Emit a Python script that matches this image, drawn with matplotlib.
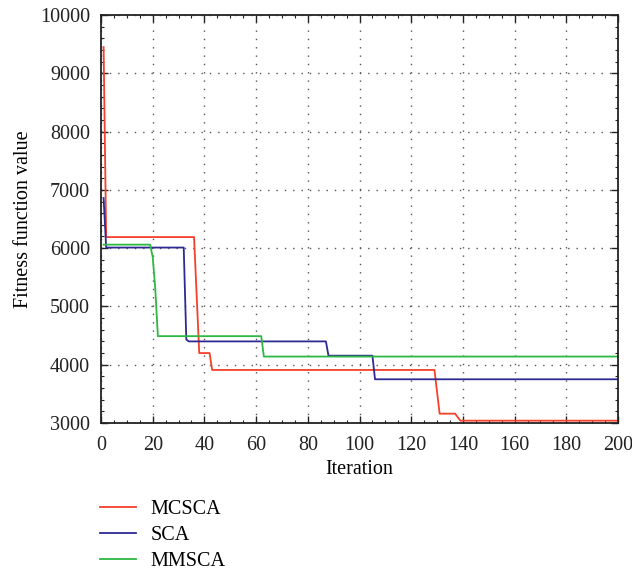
import matplotlib
matplotlib.use("Agg")
import matplotlib.pyplot as plt
from matplotlib.ticker import AutoMinorLocator, MultipleLocator

# Breakpoints (iteration, fitness value)
mcsca_x = [1, 2, 36, 38, 42, 43, 129, 131, 137, 139, 200]
mcsca_y = [9450, 6190, 6190, 4200, 4200, 3910, 3910, 3160, 3160, 3040, 3040]

sca_x = [1, 2, 32, 33, 34, 87, 88, 105, 106, 200]
sca_y = [6860, 6010, 6010, 4430, 4400, 4400, 4155, 4155, 3750, 3750]

mmsca_x = [1, 19, 20, 21, 22, 62, 63, 200]
mmsca_y = [6060, 6060, 5850, 5300, 4490, 4490, 4140, 4140]

labels = ["MCSCA", "SCA", "MMSCA"]
colors = ["#f5402a", "#2e2a94", "#2cb842"]

plt.rcParams['font.family'] = ['Liberation Serif', 'DejaVu Serif']

fig = plt.figure(figsize=(6.32, 5.71), dpi=100)
ax = fig.add_axes([101/632, 1-423/571, (618-101)/632, (423-15)/571])

lines = []
for xs, ys, lab, c in zip([mcsca_x, sca_x, mmsca_x], [mcsca_y, sca_y, mmsca_y], labels, colors):
    l, = ax.plot(xs, ys, color=c, lw=1.3, label=lab)
    lines.append(l)

ax.set_xlim(0, 200)
ax.set_ylim(3000, 10000)
ax.xaxis.set_major_locator(MultipleLocator(20))
ax.yaxis.set_major_locator(MultipleLocator(1000))
ax.xaxis.set_minor_locator(AutoMinorLocator(4))
ax.yaxis.set_minor_locator(AutoMinorLocator(5))
ax.tick_params(which='both', direction='in', top=True, right=True, labelsize=14.5, colors='#222222')
ax.tick_params(axis='x', which='major', pad=9)
ax.tick_params(axis='y', which='major', pad=8)
ax.tick_params(which='major', length=5, width=1)
ax.tick_params(which='minor', length=2.5, width=0.8)
ax.grid(True, which='major', color='#555555', linestyle=(0, (1, 5)), lw=1)
for s in ax.spines.values():
    s.set_linewidth(1.3)
    s.set_color('#222222')

ax.set_xlabel("Iteration", fontsize=14.5, labelpad=4)
ax.set_ylabel("Fitness function value", fontsize=14.5, labelpad=5)

fig.legend(handles=lines, labels=labels, loc='upper left',
           bbox_to_anchor=(82/632, 1-482/571), frameon=False, fontsize=14.5,
           handlelength=1.8, handletextpad=0.7, labelspacing=0.33)

fig.savefig("out.png", dpi=100)
